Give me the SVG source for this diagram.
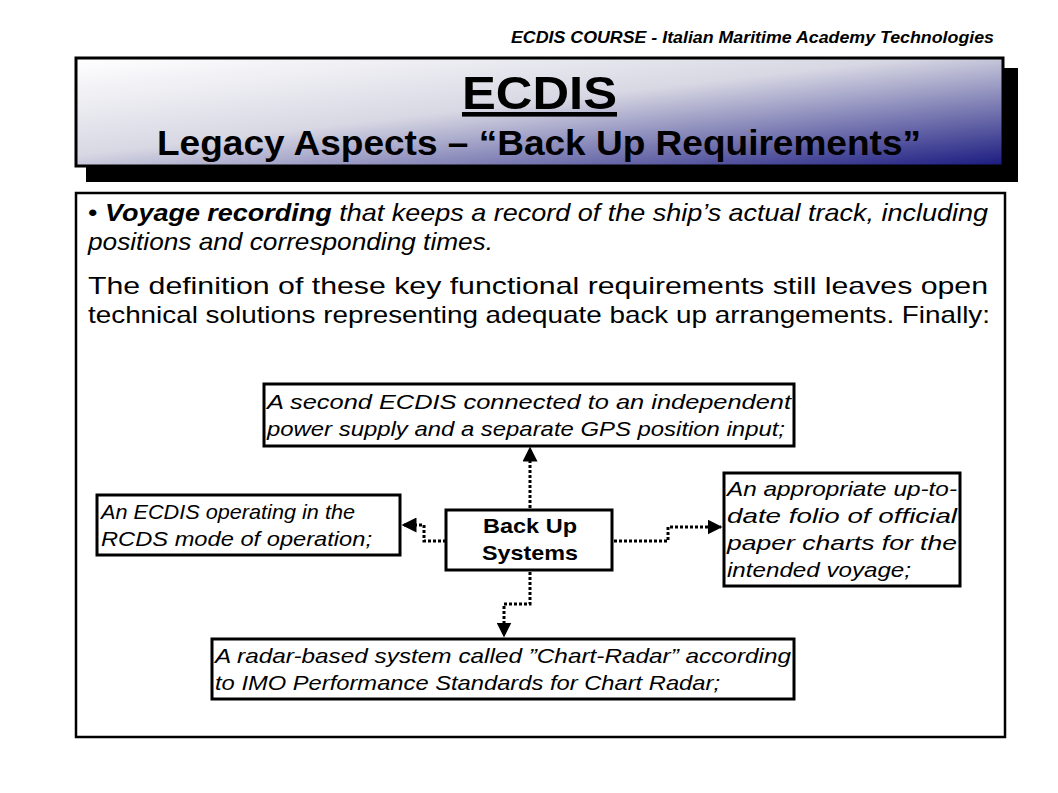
<svg xmlns="http://www.w3.org/2000/svg" width="1058" height="793" viewBox="0 0 1058 793">
<defs>
<linearGradient id="g" x1="0" y1="0" x2="1" y2="1">
<stop offset="0" stop-color="#ffffff"/><stop offset="0.45" stop-color="#d8d8e4"/><stop offset="1" stop-color="#1a1a80"/>
</linearGradient>
<marker id="ah" viewBox="0 0 10 10" refX="9" refY="5" markerWidth="5" markerHeight="5" orient="auto"><path d="M0,0 L10,5 L0,10 z" fill="#000"/></marker>
<style>
text{font-family:"Liberation Sans",Arial,sans-serif;fill:#000}
.n{fill:#fff;stroke:#000;stroke-width:3}
.t{font-size:21px;font-style:italic}
.c{fill:none;stroke:#000;stroke-width:3;stroke-dasharray:3 2;marker-end:url(#ah)}
</style>
</defs>
<rect width="1058" height="793" fill="#fff"/>
<text x="511" y="43" font-size="16" font-style="italic" font-weight="bold" textLength="483" lengthAdjust="spacingAndGlyphs">ECDIS COURSE - Italian Maritime Academy Technologies</text>
<rect x="86" y="68" width="932" height="114" fill="#000"/>
<rect x="76" y="58" width="927" height="108" fill="url(#g)" stroke="#000" stroke-width="3"/>
<text x="462" y="109" font-size="46" font-weight="bold" text-decoration="underline" textLength="155" lengthAdjust="spacingAndGlyphs">ECDIS</text>
<text x="157" y="155" font-size="35" font-weight="bold" textLength="764" lengthAdjust="spacingAndGlyphs">Legacy Aspects – “Back Up Requirements”</text>
<rect x="76" y="193" width="929" height="544" fill="#fff" stroke="#000" stroke-width="2.5"/>
<text font-size="24"><tspan x="88" y="221" textLength="900" lengthAdjust="spacingAndGlyphs">• <tspan font-weight="bold" font-style="italic">Voyage recording</tspan><tspan font-style="italic"> that keeps a record of the ship’s actual track, including</tspan></tspan></text>
<text x="88" y="250" font-size="24" font-style="italic" textLength="405" lengthAdjust="spacingAndGlyphs">positions and corresponding times.</text>
<text x="88" y="294" font-size="24" textLength="900" lengthAdjust="spacingAndGlyphs">The definition of these key functional requirements still leaves open</text>
<text x="88" y="323" font-size="24" textLength="902" lengthAdjust="spacingAndGlyphs">technical solutions representing adequate back up arrangements. Finally:</text>
<g id="connectors">
<path class="c" d="M530,508 V448"/>
<path class="c" d="M446,541 H424 V525 H403"/>
<path class="c" d="M614,541 H668 V527 H721"/>
<path class="c" d="M530,572 V604 H504 V636"/>
</g>
<g id="top"><rect class="n" x="264" y="384" width="530" height="62"/>
<text class="t" x="267" y="409" textLength="524" lengthAdjust="spacingAndGlyphs">A second ECDIS connected to an independent</text>
<text class="t" x="267" y="436" textLength="518" lengthAdjust="spacingAndGlyphs">power supply and a separate GPS position input;</text></g>
<g id="left"><rect class="n" x="97" y="495" width="303" height="60"/>
<text class="t" x="101" y="519" textLength="254" lengthAdjust="spacingAndGlyphs">An ECDIS operating in the</text>
<text class="t" x="101" y="546" textLength="271" lengthAdjust="spacingAndGlyphs">RCDS mode of operation;</text></g>
<g id="center"><rect class="n" x="446" y="510" width="166" height="60"/>
<text x="483" y="533" font-size="21" font-weight="bold" textLength="94" lengthAdjust="spacingAndGlyphs">Back Up</text>
<text x="482" y="560" font-size="21" font-weight="bold" textLength="96" lengthAdjust="spacingAndGlyphs">Systems</text></g>
<g id="right"><rect class="n" x="724" y="473" width="236" height="113"/>
<text class="t" x="727" y="496" textLength="230" lengthAdjust="spacingAndGlyphs">An appropriate up-to-</text>
<text class="t" x="727" y="523" textLength="230" lengthAdjust="spacingAndGlyphs">date folio of official</text>
<text class="t" x="727" y="550" textLength="230" lengthAdjust="spacingAndGlyphs">paper charts for the</text>
<text class="t" x="727" y="577" textLength="184" lengthAdjust="spacingAndGlyphs">intended voyage;</text></g>
<g id="bottom"><rect class="n" x="212" y="639" width="582" height="60"/>
<text class="t" x="215" y="663" textLength="576" lengthAdjust="spacingAndGlyphs">A radar-based system called ”Chart-Radar” according</text>
<text class="t" x="215" y="690" textLength="505" lengthAdjust="spacingAndGlyphs">to IMO Performance Standards for Chart Radar;</text></g>
</svg>
